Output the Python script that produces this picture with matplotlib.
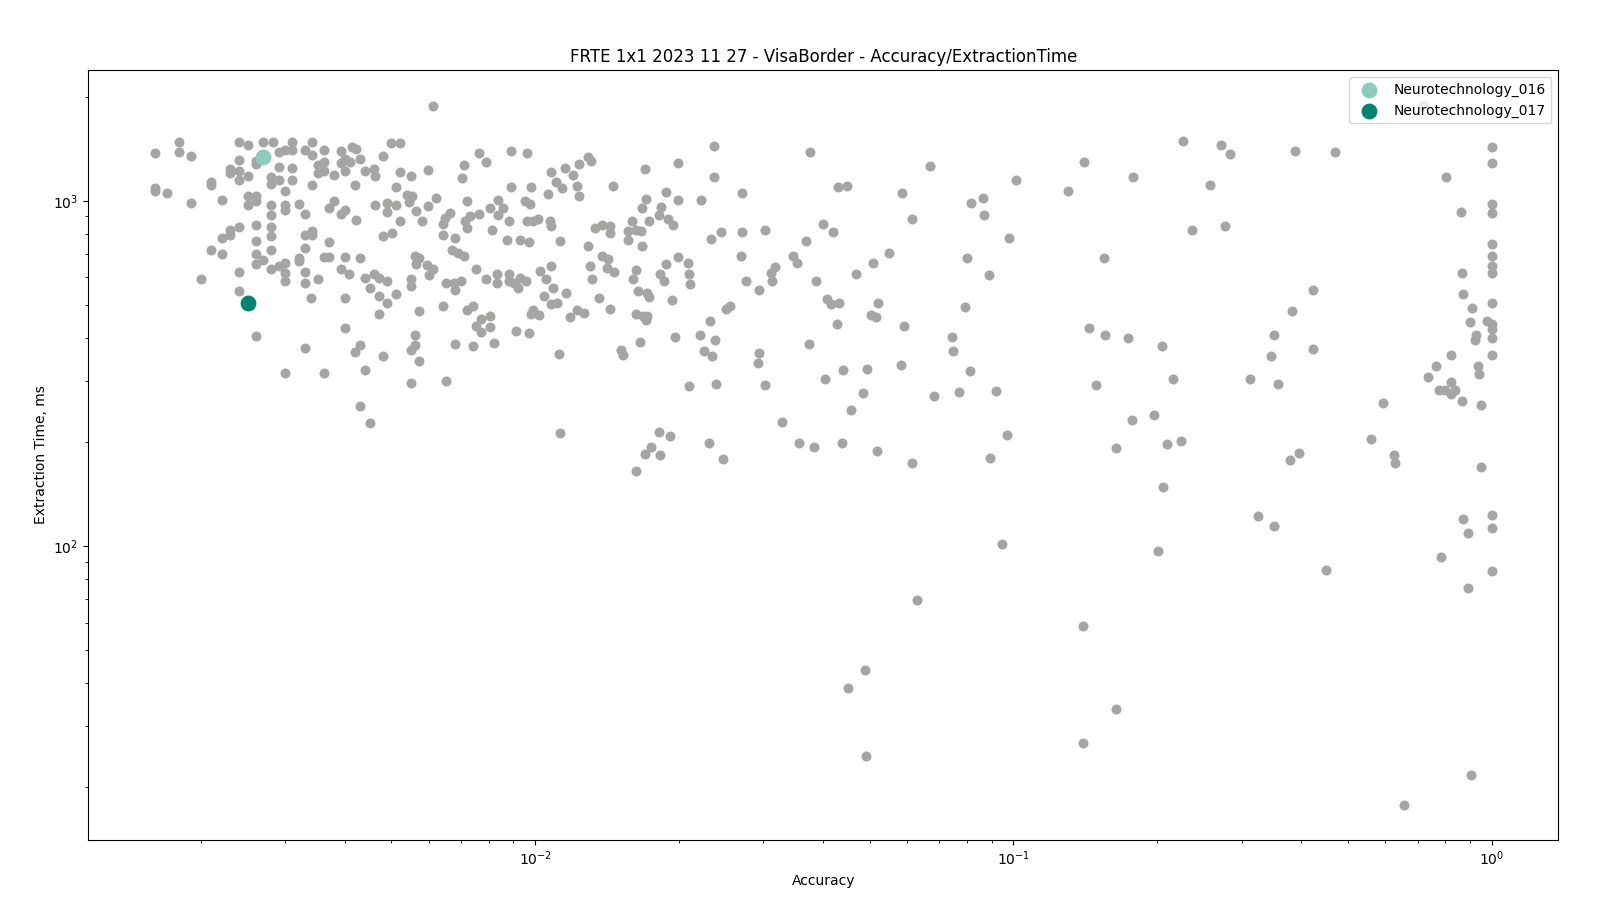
import numpy as np
import matplotlib.pyplot as plt

title = 'FRTE 1x1 2023 11 27 - VisaBorder - Accuracy/ExtractionTime'

# (accuracy, extraction time ms) for every other algorithm, grouped by region
others_low_top = [
    (0.0016, 1378), (0.0016, 1085), (0.0016, 1065), (0.0017, 1052), (0.0018, 1476),
    (0.0018, 1382), (0.0019, 1348), (0.0019, 985), (0.0021, 1133), (0.0021, 1107),
    (0.00221, 1005), (0.0023, 1232), (0.0023, 1201), (0.0024, 1220), (0.0024, 1150),
    (0.0025, 1182), (0.0024, 1476), (0.0025, 1450), (0.0024, 1313), (0.0026, 1304),
    (0.0026, 1276), (0.0027, 1476), (0.00282, 1476), (0.00291, 1387), (0.003, 1403),
    (0.0031, 1403), (0.0031, 1476), (0.00291, 1253), (0.0031, 1242), (0.0028, 1174),
    (0.0028, 1120), (0.00291, 1150), (0.0031, 1145), (0.0033, 1403), (0.00341, 1482),
    (0.00341, 1357), (0.00361, 1400), (0.00351, 1270), (0.00361, 1293), (0.00351, 1201),
    (0.00361, 1220), (0.0038, 1188), (0.00341, 1113), (0.00393, 1394), (0.004, 1325),
    (0.00393, 1285), (0.004, 1222), (0.003, 1069),
    (0.0025, 1030), (0.0025, 974), (0.0026, 1030), (0.0026, 996), (0.0028, 974),
    (0.0028, 911), (0.003, 974), (0.003, 942), (0.00321, 981), (0.0033, 915),
    (0.0038, 1000), (0.00371, 953), (0.00393, 915), (0.004, 942),
]

others_low_mid = [
    (0.0026, 853), (0.0026, 764), (0.0024, 838), (0.0023, 825), (0.0023, 794),
    (0.00221, 782), (0.0028, 838), (0.0028, 788), (0.0028, 721), (0.0033, 794),
    (0.00341, 816), (0.00341, 794), (0.00371, 758), (0.0021, 722), (0.00221, 699),
    (0.0026, 699), (0.0026, 654), (0.0027, 672), (0.0028, 633), (0.00291, 647),
    (0.003, 661), (0.00321, 683), (0.00321, 669), (0.0033, 730), (0.00361, 689),
    (0.00371, 689), (0.004, 689), (0.00393, 636), (0.0024, 623), (0.002, 593),
    (0.003, 616), (0.003, 585), (0.0033, 621), (0.0033, 579), (0.00351, 593),
    (0.00407, 612),
    (0.0024, 546), (0.0026, 405), (0.0033, 374), (0.003, 317), (0.00361, 317),
    (0.0034, 521), (0.004, 521), (0.004, 427),
]

others_mid_top = [
    (0.00612, 1883), (0.00499, 1466), (0.00522, 1466), (0.00413, 1435), (0.00422, 1412),
    (0.00481, 1346), (0.0043, 1322), (0.0041, 1293), (0.00761, 1373), (0.0089, 1394),
    (0.00962, 1373), (0.00789, 1298), (0.0071, 1270), (0.00596, 1226), (0.00522, 1214),
    (0.0055, 1180), (0.00441, 1220), (0.00459, 1237), (0.00462, 1182), (0.01078, 1214),
    (0.0042, 1113), (0.00511, 1098), (0.00702, 1161), (0.0089, 1098), (0.00979, 1095),
    (0.01102, 1133), (0.01063, 1046), (0.00538, 1041), (0.00553, 1034), (0.00545, 992),
    (0.0062, 1018), (0.00596, 964), (0.00718, 1000), (0.00834, 1002), (0.00855, 955),
    (0.00803, 953), (0.00834, 910), (0.00951, 996), (0.00974, 976), (0.00461, 974),
    (0.0049, 985), (0.0049, 925), (0.0051, 974), (0.00562, 936), (0.0058, 876),
    (0.00663, 922), (0.00648, 892), (0.00642, 857), (0.00729, 901), (0.00761, 915),
    (0.00713, 872), (0.00718, 834), (0.00422, 882), (0.00522, 872), (0.00881, 872),
    (0.00959, 876), (0.0099, 876), (0.01014, 883), (0.01073, 872), (0.01078, 843),
    (0.00812, 825), (0.00481, 790), (0.00501, 807), (0.00642, 793), (0.0068, 781),
    (0.00871, 772), (0.00929, 767), (0.00971, 757), (0.00669, 719), (0.0069, 707),
    (0.00709, 691), (0.0043, 681), (0.00561, 690), (0.00571, 684), (0.00562, 657),
    (0.00593, 651), (0.0061, 633), (0.006, 609), (0.00752, 636), (0.00833, 612),
    (0.00789, 595), (0.00831, 576), (0.00881, 612), (0.00881, 585), (0.00902, 576),
    (0.00929, 599), (0.00956, 585), (0.01024, 626), (0.01055, 595), (0.01079, 647),
    (0.00441, 599), (0.00459, 612), (0.0047, 599), (0.00489, 585), (0.0055, 592),
    (0.00651, 579), (0.00676, 579), (0.00699, 585),
]

others_mid_low = [
    (0.0045, 558), (0.0055, 565), (0.00921, 560), (0.0109, 558), (0.0068, 550),
    (0.01044, 528), (0.01078, 502), (0.0111, 504), (0.0047, 528), (0.0049, 504),
    (0.0051, 536), (0.0047, 469), (0.00572, 478), (0.00642, 494), (0.00718, 482),
    (0.00742, 496), (0.0077, 454), (0.00802, 462), (0.00752, 433), (0.0077, 416),
    (0.00802, 430), (0.0082, 386), (0.00911, 418), (0.00971, 413), (0.0099, 482),
    (0.0098, 470), (0.0102, 466), (0.0068, 385), (0.00742, 379), (0.00561, 409),
    (0.00561, 383), (0.0055, 370), (0.00572, 343), (0.0043, 383), (0.0042, 364),
    (0.00481, 355), (0.0044, 324), (0.0055, 297), (0.00651, 300), (0.0043, 255),
    (0.0045, 227), (0.01122, 360), (0.01127, 213),
]

others_centre_top = [
    (0.0236, 1441), (0.0129, 1342), (0.01306, 1304), (0.01155, 1243), (0.01235, 1276),
    (0.012, 1188), (0.01223, 1105), (0.01235, 1031), (0.01135, 1088), (0.01696, 1236),
    (0.01987, 1285), (0.0236, 1172), (0.01454, 1105), (0.0271, 1053), (0.01874, 1060),
    (0.017, 1014), (0.01987, 1005), (0.0222, 1005), (0.01835, 961), (0.01813, 911),
    (0.01894, 883), (0.01941, 851), (0.01672, 953), (0.01594, 876), (0.01727, 872),
    (0.01334, 834), (0.01376, 853), (0.01431, 843), (0.01436, 807), (0.01563, 816),
    (0.01627, 825), (0.01667, 816), (0.01563, 767), (0.01672, 741), (0.0129, 741),
    (0.02326, 777), (0.02444, 814), (0.027, 814), (0.03025, 820), (0.0269, 693),
    (0.01987, 689), (0.01874, 654), (0.02087, 661), (0.02097, 615), (0.0182, 612),
    (0.0138, 690), (0.0142, 676), (0.013, 645), (0.01409, 640), (0.01459, 622),
    (0.01627, 630), (0.016, 594), (0.01315, 592), (0.01126, 763), (0.0276, 585),
]

others_centre_low = [
    (0.01159, 542), (0.0136, 521), (0.01223, 482), (0.01263, 472), (0.01181, 459),
    (0.01431, 485), (0.01641, 548), (0.01713, 539), (0.01729, 526), (0.01931, 515),
    (0.0211, 572), (0.01625, 469), (0.0168, 464), (0.01713, 464), (0.01702, 451),
    (0.0186, 585), (0.0294, 550), (0.01509, 370), (0.01526, 358), (0.01654, 389),
    (0.01956, 402), (0.02206, 408), (0.02371, 395), (0.02249, 367), (0.02345, 355),
    (0.02315, 447), (0.02509, 485), (0.02549, 496), (0.02932, 362), (0.02918, 338),
    (0.02093, 290), (0.02383, 295), (0.03015, 293), (0.01813, 214), (0.01917, 208),
    (0.01749, 194), (0.01694, 185), (0.0182, 183), (0.0162, 165), (0.02304, 199),
    (0.02468, 179),
]

others_right_mid = [
    (0.03749, 1382), (0.067, 1259), (0.1406, 1293), (0.1779, 1175), (0.1013, 1148),
    (0.1302, 1067), (0.04303, 1098), (0.04488, 1103), (0.05833, 1053), (0.08167, 985),
    (0.08653, 1017), (0.08695, 910), (0.06147, 886), (0.03991, 858), (0.04184, 809),
    (0.03678, 765), (0.03466, 690), (0.03521, 661), (0.03168, 642), (0.03114, 619),
    (0.03129, 585), (0.098, 781), (0.1548, 684), (0.05072, 661), (0.0548, 707),
    (0.08012, 684), (0.0387, 587), (0.04676, 613), (0.08896, 609), (0.04067, 518),
    (0.04148, 502), (0.04308, 507), (0.05216, 507), (0.05044, 466), (0.05159, 459),
    (0.04266, 439), (0.0591, 434), (0.07937, 491), (0.03732, 385), (0.07436, 402),
    (0.07472, 366), (0.1438, 427), (0.1555, 408), (0.1734, 400), (0.2046, 379),
    (0.05806, 334), (0.04393, 323), (0.04931, 325), (0.04029, 304), (0.08113, 321),
    (0.1489, 292), (0.04837, 277), (0.06836, 272), (0.07711, 279), (0.09199, 281),
    (0.04565, 248), (0.03277, 229), (0.1766, 232), (0.1965, 240), (0.09697, 210),
    (0.03555, 199), (0.0382, 194), (0.04372, 199), (0.05178, 188), (0.06147, 174),
    (0.08939, 180), (0.1641, 192), (0.2098, 197),
]

others_far_right = [
    (0.7636, 333), (0.7346, 308), (0.7773, 283), (0.7992, 282), (0.8207, 298),
    (0.8207, 275), (0.8401, 283), (0.8653, 263), (0.8207, 357), (0.9376, 333),
    (0.9421, 315), (0.9254, 395), (0.9298, 409), (0.9022, 444), (0.9109, 488),
    (0.9796, 449), (1.0, 439), (1.0, 425), (1.0, 400), (1.0, 357), (0.9526, 256),
    (0.8695, 538), (0.8682, 619), (0.8628, 928), (0.8015, 1175), (1.0, 1429),
    (1.0, 1285), (1.0, 981), (1.0, 922), (1.0, 750), (1.0, 691), (1.0, 647),
    (1.0, 619), (1.0, 504), (0.592, 260), (0.5585, 204), (0.626, 184), (0.629, 174),
    (0.9526, 169), (0.4227, 553), (0.4227, 371), (0.3822, 478), (0.3504, 407),
    (0.3454, 355), (0.3571, 294), (0.3123, 304), (0.2156, 304), (0.2261, 1486),
    (0.2722, 1447), (0.2835, 1363), (0.2578, 1110), (0.2361, 823), (0.277, 846),
    (0.3881, 1391), (0.4713, 1382), (0.2242, 202), (0.396, 186), (0.3782, 177),
    (0.72, 1891),
]

others_bottom = [
    (0.2053, 148.5), (0.3245, 122), (0.3505, 114), (0.0947, 101), (0.2004, 97),
    (0.45, 85), (0.8728, 120), (0.8907, 109), (0.8927, 75.5), (1.0, 123),
    (1.0, 113), (1.0, 84.6), (0.7826, 93), (0.9068, 21.7), (0.6545, 17.8),
    (0.06293, 69.7), (0.14, 58.5), (0.04884, 43.6), (0.0451, 38.7), (0.1635, 33.8),
    (0.1395, 26.8), (0.04905, 24.7),
]

highlight_names = ['Neurotechnology_016', 'Neurotechnology_017']
highlight_acc = [0.0027, 0.0025]
highlight_time = [1338, 507]
highlight_colors = ['#8ccbbe', '#00846f']

others = np.array(others_low_top + others_low_mid + others_mid_top + others_mid_low
                  + others_centre_top + others_centre_low + others_right_mid
                  + others_far_right + others_bottom)

fig, ax = plt.subplots(figsize=(16, 9), dpi=100)

ax.scatter(others[:, 0], others[:, 1], s=52, color='#a5a6a4', linewidths=0, zorder=2)
for name, a, t, c in zip(highlight_names, highlight_acc, highlight_time, highlight_colors):
    ax.scatter([a], [t], s=130, color=c, linewidths=0, label=name, zorder=3)

ax.set_xscale('log')
ax.set_yscale('log')
ax.set_title(title)
ax.set_xlabel('Accuracy')
ax.set_ylabel('Extraction Time, ms')
ax.legend(loc='upper right')

fig.subplots_adjust(left=0.055, right=0.974, top=0.922, bottom=0.067)
fig.savefig('out.png')
